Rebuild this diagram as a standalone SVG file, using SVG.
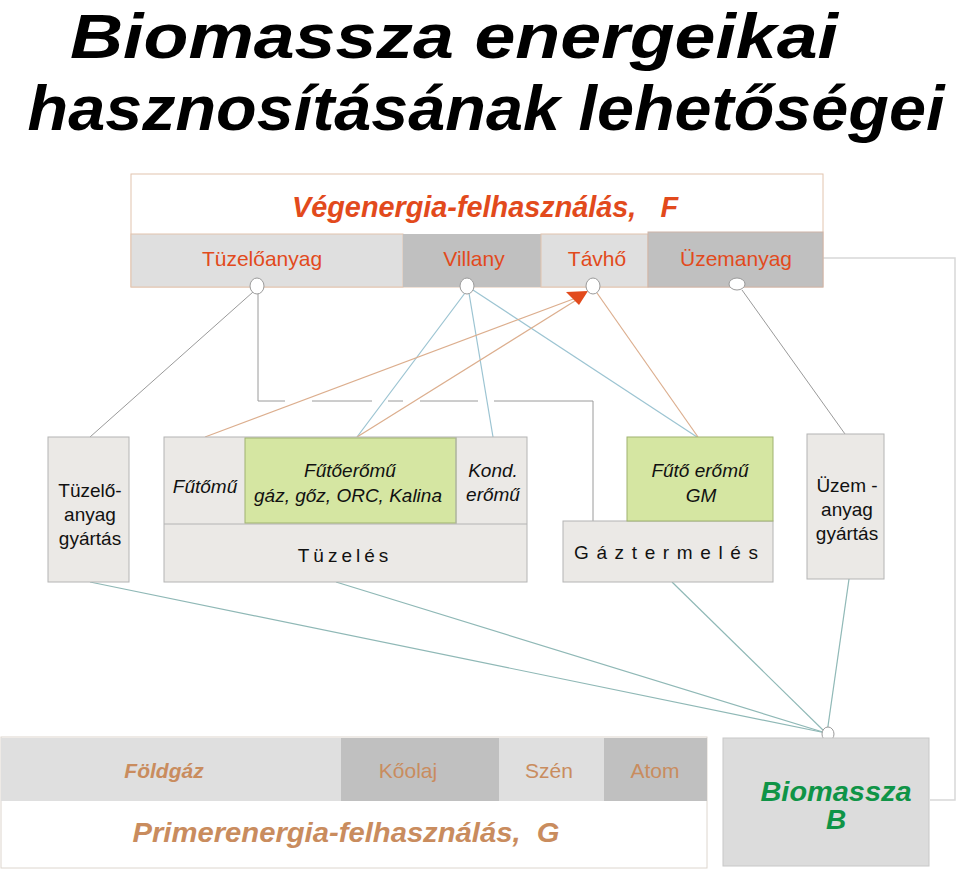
<svg xmlns="http://www.w3.org/2000/svg" width="960" height="877" viewBox="0 0 960 877">
<style>
text{font-family:"Liberation Sans",Arial,sans-serif;text-anchor:middle}
.title{font-size:63px;font-weight:bold;font-style:italic;fill:#000}
.fhead{font-size:29px;font-weight:bold;font-style:italic;fill:#e24a1c}
.flab{font-size:21px;fill:#e24a1c}
.glab{font-size:21px;fill:#c98c5e}
.mid{font-size:19px;fill:#111}
.it{font-style:italic}
.light{fill:#dfdfdf}
.dark{fill:#c0c0c0}
.box{fill:#ebe9e6;stroke:#b4b4b4;stroke-width:1}
.green{fill:#d5e6a2;stroke:#9fb270;stroke-width:1}
.node{fill:#fff;stroke:#9a9a9a;stroke-width:1}
.c-grey{stroke:#9a9a9a;stroke-width:1;fill:none}
.c-blue{stroke:#9cc4d2;stroke-width:1.2;fill:none}
.c-tan{stroke:#dcae8e;stroke-width:1.2;fill:none}
.c-teal{stroke:#8fb8b6;stroke-width:1.2;fill:none}
</style>

<g id="title">
<text class="title" x="454" y="58" textLength="768" lengthAdjust="spacingAndGlyphs">Biomassza energeikai</text>
<text class="title" x="486" y="130" textLength="917" lengthAdjust="spacingAndGlyphs">hasznosításának lehetőségei</text>
</g>

<g id="frame-right">
<polyline points="823,258 955,258 955,800 930,800" fill="none" stroke="#d8d8d8" stroke-width="1.5"/>
</g>

<g id="vegenergia">
<rect x="131" y="174" width="692" height="113" fill="#fff" stroke="#e2c4ae" stroke-width="1"/>
<text class="fhead" x="485" y="217" textLength="386" lengthAdjust="spacingAndGlyphs">Végenergia-felhasználás,&#160;&#160;&#160;F</text>
</g>
<g id="tuzeloanyag">
<rect class="light" x="131" y="234" width="272" height="53" stroke="#e2c4ae"/>
<text class="flab" x="262" y="266">Tüzelőanyag</text>
</g>
<g id="villany">
<rect class="dark" x="403" y="234" width="138" height="53"/>
<text class="flab" x="474" y="266">Villany</text>
</g>
<g id="tavho">
<rect class="light" x="541" y="234" width="107" height="53" stroke="#e2c4ae"/>
<text class="flab" x="597" y="266">Távhő</text>
</g>
<g id="uzemanyag">
<rect class="dark" x="648" y="232" width="175" height="55" stroke="#cdb4a8"/>
<text class="flab" x="736" y="266">Üzemanyag</text>
</g>

<g id="connectors">
<line class="c-grey" x1="253" y1="292" x2="90" y2="437"/>
<polyline class="c-grey" points="258,293 258,401 285,401"/>
<line class="c-grey" x1="312" y1="401" x2="372" y2="401"/>
<line class="c-grey" x1="388" y1="401" x2="403" y2="401"/>
<line class="c-grey" x1="420" y1="401" x2="478" y2="401"/>
<polyline class="c-grey" points="494,401 593,401 593,521"/>
<line class="c-blue" x1="465" y1="293" x2="357" y2="437"/>
<line class="c-blue" x1="469" y1="293" x2="493" y2="437"/>
<line class="c-blue" x1="473" y1="290" x2="697" y2="437"/>
<line class="c-tan" x1="205" y1="437" x2="576" y2="298"/>
<line class="c-tan" x1="357" y1="437" x2="578" y2="299"/>
<line class="c-tan" x1="597" y1="293" x2="698" y2="437"/>
<line class="c-grey" x1="742" y1="290" x2="845" y2="434" stroke="#b4b4b4"/>
<polygon points="566,292 588,291 579,305" fill="#e24a1c"/>
<line class="c-teal" x1="90" y1="582" x2="826" y2="733"/>
<line class="c-teal" x1="336" y1="582" x2="826" y2="733"/>
<line class="c-teal" x1="672" y1="582" x2="826" y2="733"/>
<line class="c-teal" x1="849" y1="579" x2="827" y2="733"/>
</g>

<g id="ports">
<ellipse class="node" cx="257" cy="286" rx="7" ry="8"/>
<ellipse class="node" cx="467" cy="286" rx="7" ry="8" stroke="#9cc4d2"/>
<ellipse class="node" cx="593" cy="286" rx="7" ry="8"/>
<ellipse class="node" cx="737" cy="284" rx="8" ry="6"/>
<ellipse class="node" cx="828" cy="734" rx="6" ry="7" stroke="#8fb8b6"/>
</g>

<g id="tuzeloanyag-gyartas">
<rect class="box" x="48" y="437" width="81" height="145"/>
<text class="mid" x="90" y="497">Tüzelő-</text>
<text class="mid" x="90" y="521">anyag</text>
<text class="mid" x="90" y="545">gyártás</text>
</g>

<g id="tuzeles">
<rect class="box" x="164" y="437" width="363" height="145"/>
<line x1="164" y1="524" x2="527" y2="524" stroke="#b4b4b4"/>
<text class="mid" x="345" y="562" letter-spacing="4">Tüzelés</text>
</g>
<g id="futomu">
<text class="mid it" x="205" y="493">Fűtőmű</text>
</g>
<g id="futoeromu">
<rect class="green" x="245" y="438" width="211" height="85"/>
<text class="mid it" x="350" y="477">Fűtőerőmű</text>
<text class="mid it" x="348" y="502">gáz, gőz, ORC, Kalina</text>
</g>
<g id="kond-eromu">
<line x1="456" y1="437" x2="456" y2="524" stroke="#b4b4b4"/>
<text class="mid it" x="493" y="477">Kond.</text>
<text class="mid it" x="493" y="501">erőmű</text>
</g>

<g id="gaztermeles">
<rect class="box" x="563" y="521" width="210" height="61"/>
<text class="mid" x="666" y="559" textLength="184" lengthAdjust="spacing">Gáztermelés</text>
</g>
<g id="futoeromu-gm">
<rect class="green" x="627" y="437" width="146" height="84"/>
<text class="mid it" x="700" y="477">Fűtő erőmű</text>
<text class="mid it" x="701" y="502">GM</text>
</g>

<g id="uzemanyag-gyartas">
<rect class="box" x="807" y="434" width="77" height="145"/>
<text class="mid" x="847" y="492">Üzem -</text>
<text class="mid" x="847" y="516">anyag</text>
<text class="mid" x="847" y="540">gyártás</text>
</g>

<g id="primerenergia">
<rect x="1" y="737" width="706" height="131" fill="#fff" stroke="#ddd6ce" stroke-width="1"/>
<text x="346" y="842" font-size="28" font-weight="bold" font-style="italic" fill="#c98c5e" textLength="427" lengthAdjust="spacingAndGlyphs">Primerenergia-felhasználás,&#160;&#160;G</text>
</g>
<g id="foldgaz">
<rect class="light" x="1" y="738" width="340" height="63"/>
<text class="glab" x="164" y="778" font-weight="bold" font-style="italic">Földgáz</text>
</g>
<g id="koolaj">
<rect class="dark" x="341" y="738" width="158" height="63"/>
<text class="glab" x="408" y="778">Kőolaj</text>
</g>
<g id="szen">
<rect class="light" x="499" y="738" width="105" height="63"/>
<text class="glab" x="549" y="778">Szén</text>
</g>
<g id="atom">
<rect class="dark" x="604" y="738" width="103" height="63"/>
<text class="glab" x="655" y="778">Atom</text>
</g>

<g id="biomassza">
<rect x="723" y="738" width="206" height="128" fill="#dcdcdc" stroke="#c8c8c8" stroke-width="1"/>
<text x="836" y="801" font-size="28" font-weight="bold" font-style="italic" fill="#0f9447" textLength="151" lengthAdjust="spacingAndGlyphs">Biomassza</text>
<text x="836" y="829" font-size="28" font-weight="bold" font-style="italic" fill="#0f9447">B</text>
</g>
</svg>
